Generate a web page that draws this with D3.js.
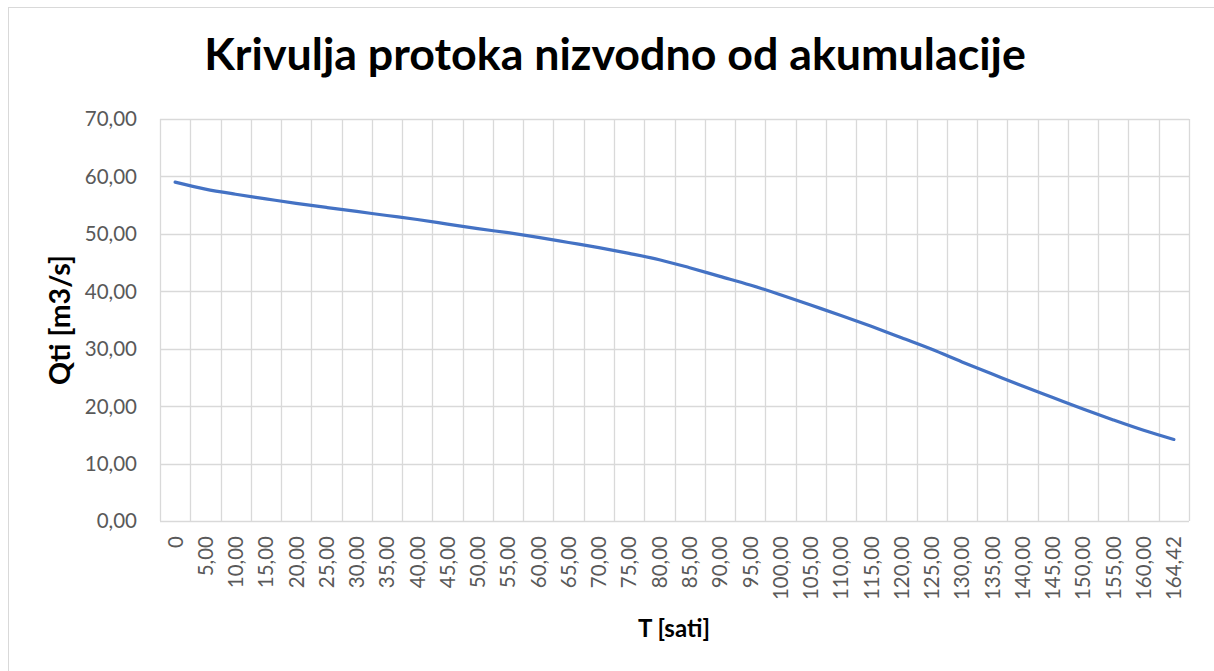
<!DOCTYPE html>
<html>
<head>
<meta charset="utf-8">
<script src="https://cdn.jsdelivr.net/npm/d3@7"></script>
<style>
  body { margin: 0; background: #fff; }
  text { font-family: Lato, "Open Sans", sans-serif; }
</style>
</head>
<body>
<div id="chart"></div>
<script>
// vrijeme T [sati] - kategorije na x osi
const tLabels = ["0", "5,00", "10,00", "15,00", "20,00", "25,00", "30,00", "35,00", "40,00",
  "45,00", "50,00", "55,00", "60,00", "65,00", "70,00", "75,00", "80,00", "85,00", "90,00",
  "95,00", "100,00", "105,00", "110,00", "115,00", "120,00", "125,00", "130,00", "135,00",
  "140,00", "145,00", "150,00", "155,00", "160,00", "164,42"];

// protok Qti [m3/s]
const qValues = [59.0, 57.8, 56.9, 56.1, 55.3, 54.6, 53.9, 53.2, 52.5, 51.7, 50.9, 50.2,
  49.4, 48.5, 47.6, 46.6, 45.5, 44.1, 42.6, 41.1, 39.4, 37.6, 35.8, 33.9, 31.9, 29.9,
  27.7, 25.6, 23.5, 21.5, 19.5, 17.6, 15.8, 14.2];

const yTicks = [0, 10, 20, 30, 40, 50, 60, 70];

const width = 1214, height = 671;
const plot = { left: 160, right: 1189, top: 119, bottom: 521 };

const svg = d3.select("#chart").append("svg")
  .attr("width", width)
  .attr("height", height);

// okvir grafikona
svg.append("rect")
  .attr("x", 8.5).attr("y", 7.5)
  .attr("width", width).attr("height", height)
  .attr("fill", "none")
  .attr("stroke", "#d9d9d9");

const x = d3.scaleBand()
  .domain(tLabels)
  .range([plot.left, plot.right])
  .padding(0);

const y = d3.scaleLinear()
  .domain([0, 70])
  .range([plot.bottom, plot.top]);

const fmt = v => v.toFixed(2).replace(".", ",");

// horizontalne linije mreze
svg.append("g")
  .selectAll("line")
  .data(yTicks)
  .enter().append("line")
  .attr("x1", plot.left).attr("x2", plot.right)
  .attr("y1", d => Math.round(y(d)) + 0.5)
  .attr("y2", d => Math.round(y(d)) + 0.5)
  .attr("stroke", "#d9d9d9")
  .attr("stroke-width", 1.3);

// vertikalne linije mreze (granice kategorija)
const edges = tLabels.map(d => x(d)).concat([plot.right]);
svg.append("g")
  .selectAll("line")
  .data(edges)
  .enter().append("line")
  .attr("x1", d => Math.round(d) + 0.5).attr("x2", d => Math.round(d) + 0.5)
  .attr("y1", plot.top).attr("y2", plot.bottom)
  .attr("stroke", "#d9d9d9")
  .attr("stroke-width", 1.3);

// y oznake
svg.append("g")
  .selectAll("text")
  .data(yTicks)
  .enter().append("text")
  .attr("x", 137)
  .attr("y", d => y(d))
  .attr("dy", "0.36em")
  .attr("text-anchor", "end")
  .attr("fill", "#595959")
  .style("font-size", "20.5px")
  .text(d => fmt(d));

// x oznake (rotirane)
svg.append("g")
  .selectAll("text")
  .data(tLabels)
  .enter().append("text")
  .attr("transform", d => `translate(${x(d) + x.bandwidth() / 2},536) rotate(-90)`)
  .attr("dy", "0.36em")
  .attr("text-anchor", "end")
  .attr("fill", "#595959")
  .style("font-size", "20.5px")
  .text(d => d);

// linija protoka
const line = d3.line()
  .x((d, i) => x(tLabels[i]) + x.bandwidth() / 2)
  .y(d => y(d))
  .curve(d3.curveCatmullRom.alpha(0.5));

svg.append("path")
  .datum(qValues)
  .attr("fill", "none")
  .attr("stroke", "#4472c4")
  .attr("stroke-width", 3.2)
  .attr("stroke-linecap", "round")
  .attr("d", line);

// podesi velicinu fonta prema zeljenoj sirini
function fitWidth(sel, target) {
  const w = sel.node().getComputedTextLength();
  const fs = parseFloat(sel.style("font-size"));
  sel.style("font-size", (fs * target / w) + "px");
}

const title = svg.append("text")
  .attr("x", 615).attr("y", 70)
  .attr("text-anchor", "middle")
  .attr("font-weight", "bold")
  .attr("fill", "#000")
  .style("font-size", "40px")
  .text("Krivulja protoka nizvodno od akumulacije");
fitWidth(title, 822);

const yTitle = svg.append("text")
  .attr("transform", "translate(70,320) rotate(-90)")
  .attr("text-anchor", "middle")
  .attr("font-weight", "bold")
  .attr("fill", "#000")
  .style("font-size", "20px")
  .text("Qti [m3/s]");
fitWidth(yTitle, 130);

const xTitle = svg.append("text")
  .attr("x", 674).attr("y", 637)
  .attr("text-anchor", "middle")
  .attr("font-weight", "bold")
  .attr("fill", "#000")
  .style("font-size", "20px")
  .text("T [sati]");
fitWidth(xTitle, 72);
</script>
</body>
</html>
